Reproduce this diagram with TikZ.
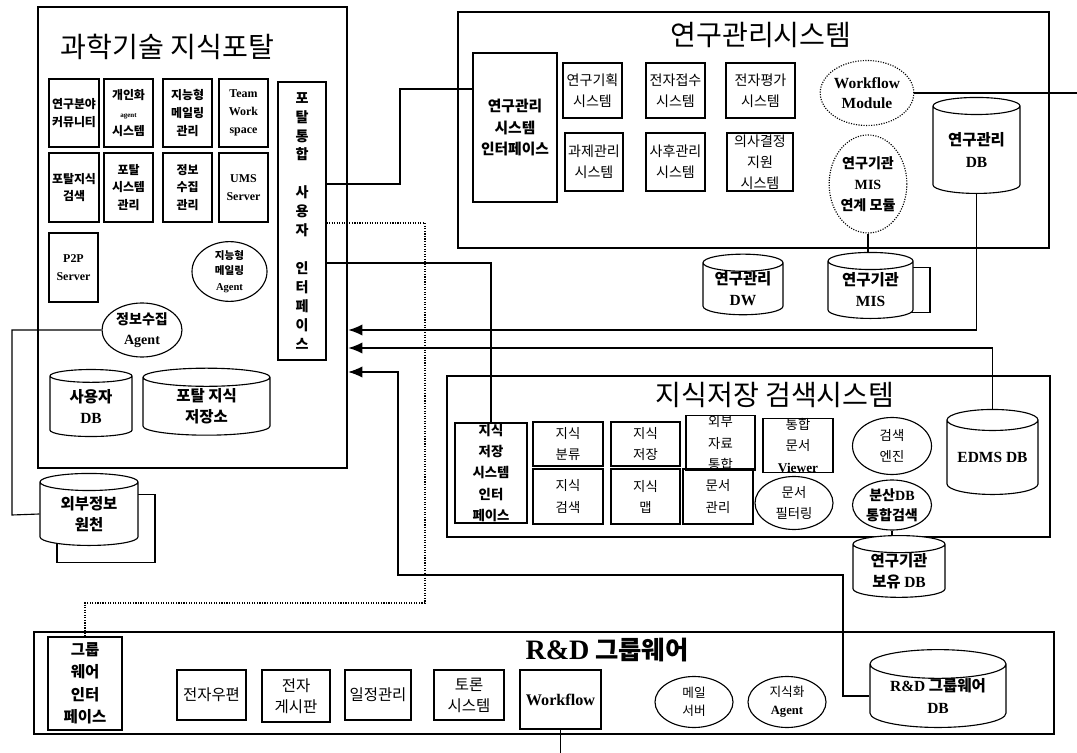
\documentclass[tikz,border=0pt]{standalone}
\usepackage{fontspec}
\setmainfont{Liberation Serif}
\newfontfamily\kr{Noto Sans CJK KR}
\newfontfamily\tnr{Liberation Serif}
\usetikzlibrary{shapes.geometric,arrows.meta}

\newcommand\en[1]{{\tnr\bfseries #1}}
\newcommand\pxu{0.025cm}
\newcommand\fsP{\fontsize{8.5}{12.7}\selectfont}
\newcommand\fsR{\fontsize{10}{15}\selectfont}
\newcommand\fsK{\fontsize{9.5}{15}\selectfont}
\newcommand\fsG{\fontsize{11}{15}\selectfont}
\newcommand\fsD{\fontsize{11}{15}\selectfont}
\newcommand\fsS{\fontsize{9}{13}\selectfont}
\newcommand\fsT{\fontsize{20}{22}\selectfont}
\newcommand\fsV{\fontsize{10}{13.5}\selectfont}

\begin{document}
\begin{tikzpicture}[x=0.025cm, y=-0.025cm, >={Latex[length=10pt,width=8pt]},
  wh/.style 2 args={minimum width=#1*\pxu, minimum height=#2*\pxu}]

  \tikzstyle{O}=[draw, line width=1.8pt, inner sep=0pt]
  \tikzstyle{B}=[draw, line width=0.8pt, inner sep=0pt, align=center, font=\kr\fsR]
  \tikzstyle{P}=[B, font=\kr\bfseries\fsP]
  \tikzstyle{K}=[B, font=\kr\fsK]
  \tikzstyle{G}=[B, font=\kr\fsG]
  \tikzstyle{E}=[ellipse, draw, line width=0.8pt, inner sep=0pt, align=center, font=\kr\fsS]
  \tikzstyle{D}=[cylinder, shape border rotate=90, aspect=0.3, draw, fill=white, line width=0.8pt, inner sep=0pt, align=center, font=\kr\bfseries\fsD]
  \tikzstyle{T}=[font=\kr\fsT]
  \tikzstyle{L}=[line width=0.8pt]

  \useasboundingbox (0,0) rectangle (1077,753);

  % 과학기술 지식포탈
  \node[O, wh={309}{461}] at (192.5,237.5) (portal) {};
  \node[T, anchor=west] at (56,47) (ptitle) {과학기술 지식포탈};
  \node[P, wh={50}{68}] at (74,113) (p1) {연구분야\\커뮤니티};
  \node[P, wh={49}{68}] at (128.5,113) (p2) {개인화\\{\fontsize{5}{6}\selectfont\en{agent}}\\시스템};
  \node[P, wh={49}{68}] at (187.5,113) (p3) {지능형\\메일링\\관리};
  \node[P, wh={49}{68}] at (243.5,113) (p4) {\en{Team}\\\en{Work}\\\en{space}};
  \node[P, wh={50}{69}] at (74,187.5) (p5) {포탈지식\\검색};
  \node[P, wh={49}{69}] at (128.5,187.5) (p6) {포탈\\시스템\\관리};
  \node[P, wh={49}{69}] at (187.5,187.5) (p7) {정보\\수집\\관리};
  \node[P, wh={49}{69}] at (243.5,187.5) (p8) {\en{UMS}\\\en{Server}};
  \node[P, wh={49}{69}] at (73.5,267.5) (p2p) {\en{P2P}\\\en{Server}};
  \node[E, font=\kr\bfseries\fontsize{7.5}{11}\selectfont, wh={75}{57}] at (229.5,271.5) (agm) {지능형\\메일링\\\en{Agent}};
  \node[E, font=\kr\bfseries\fontsize{10}{14}\selectfont, wh={80}{54}] at (142,330) (ia) {정보수집\\\en{Agent}};
  \node[B, font=\kr\bfseries\fsV, wh={48}{278}] at (302,221) (ui) {포\\탈\\통\\합\\~\\사\\용\\자\\~\\인\\터\\페\\이\\스};
  \node[D, wh={82}{67}] at (91,406.5) (udb) {사용자\\\en{DB}};
  \node[D, wh={127}{67}] at (206.5,406.5) (pdb) {포탈 지식\\저장소};
  \node[D, wh={98}{68}] at (106,529) (ext2) {};
  \node[D, wh={98}{72}] at (89,514) (ext) {외부정보\\원천};

  % 연구관리시스템
  \node[O, wh={591}{236}] at (753.5,130) (rms) {};
  \node[T] at (761,35) (rtitle) {연구관리시스템};
  \node[B, font=\kr\bfseries\fontsize{10.5}{15}\selectfont, wh={84}{149}] at (515,127.5) (rmif) {연구관리\\시스템\\인터페이스};
  \node[B, wh={59}{55}] at (592.5,90.5) (r1) {연구기획\\시스템};
  \node[B, wh={59}{55}] at (675.5,90.5) (r2) {전자접수\\시스템};
  \node[B, wh={69}{55}] at (760.5,90.5) (r3) {전자평가\\시스템};
  \node[B, wh={58}{58}] at (594,162) (r4) {과제관리\\시스템};
  \node[B, wh={59}{58}] at (675.5,162) (r5) {사후관리\\시스템};
  \node[B, wh={66}{58}] at (760,162) (r6) {의사결정\\지원\\시스템};
  \node[E, densely dotted, font=\fontsize{11}{14}\selectfont, wh={75}{65}] at (867,93) (wfm) {\en{Workflow}\\\en{Module}};
  \node[E, densely dotted, font=\kr\bfseries\fsR, wh={76}{98}] at (868,184) (miscon) {연구기관\\\en{MIS}\\연계 모듈};
  \node[D, wh={87}{96}] at (976.5,150) (rmdb) {연구관리\\\en{DB}};
  \node[D, wh={80}{58}] at (743,289) (dw) {연구관리\\\en{DW}};
  \node[D, wh={85}{45}] at (887.5,290.5) (mis2) {};
  \node[D, wh={85}{66}] at (870.5,290) (mis) {연구기관\\\en{MIS}};

  % 지식저장 검색시스템
  \node[O, wh={603}{161}] at (748.5,456.5) (kss) {};
  \node[T] at (775,395) (ktitle) {지식저장 검색시스템};
  \node[K, font=\kr\bfseries\fsK, wh={72}{100}] at (491,473) (kif) {지식\\저장\\시스템\\인터\\페이스};
  \node[K, wh={70}{44}] at (568,444) (k1) {지식\\분류};
  \node[K, wh={69}{44}] at (645.5,444) (k2) {지식\\저장};
  \node[K, wh={69}{46}] at (720.5,443) (k3) {외부\\자료\\통합};
  \node[K, wh={70}{45}] at (798,445.5) (k4) {통합\\문서\\\en{Viewer}};
  \node[K, wh={70}{55}] at (568,496.5) (k5) {지식\\검색};
  \node[K, wh={69}{55}] at (645.5,496.5) (k6) {지식\\맵};
  \node[K, wh={70}{55}] at (718,496.5) (k7) {문서\\관리};
  \node[E, font=\kr\fsK, wh={78}{53}] at (794,503) (filt) {문서\\필터링};
  \node[E, font=\kr\fsK, wh={79}{57}] at (892,446) (se) {검색\\엔진};
  \node[E, font=\kr\bfseries\fontsize{10}{14}\selectfont, wh={79}{50}] at (892,505) (dist) {분산\en{DB}\\통합검색};
  \node[D, wh={91}{85}] at (992.5,457.5) (edms) {\en{EDMS DB}};
  \node[D, wh={92}{52}] at (899,571) (hold) {연구기관\\보유 \en{DB}};

  % R&D 그룹웨어
  \node[O, wh={1020}{102}] at (544,683) (rnd) {};
  \node[T, font=\kr\bfseries\fontsize{18}{20}\selectfont] at (607,650) (gtitle) {{\fontsize{20}{22}\selectfont\en{R\&D}} 그룹웨어};
  \node[G, font=\kr\bfseries\fontsize{11}{16}\selectfont, wh={74}{93}] at (85,683.5) (grif) {그룹\\웨어\\인터\\페이스};
  \node[G, wh={69}{50}] at (211.5,695) (g1) {전자우편};
  \node[G, wh={68}{52}] at (296,696) (g2) {전자\\게시판};
  \node[G, wh={66}{50}] at (378,695) (g3) {일정관리};
  \node[G, wh={70}{50}] at (469,695) (g4) {토론\\시스템};
  \node[G, font=\fontsize{11.5}{14}\selectfont, wh={81}{59}] at (560.5,699.5) (wf) {\en{Workflow}};
  \node[E, wh={78}{51}] at (694,702) (mail) {메일\\서버};
  \node[E, wh={78}{51}] at (787,702) (ka) {지식화\\\en{Agent}};
  \node[D, wh={136}{58}] at (938,696) (rnddb) {\en{R\&D} 그룹웨어\\\en{DB}};

  \coordinate (wfmout) at (1077,93);
  \coordinate (wfout) at (560.5,753);

  % connectors
  \draw [L] (ui.east |- 0,184) -| (400,89) -- (rmif.west |- 0,89);
  \draw [L, densely dotted] (ui.east |- 0,223) -| (425,603) -| (grif.north);
  \draw [L] (ui.east |- 0,263) -| (kif.north);
  \draw [L, line width=1pt, ->] (rmdb.south) |- (portal.east |- 0,330);
  \draw [L, line width=1pt, ->] (edms.north) |- (portal.east |- 0,348);
  \draw [L, ->] (rnddb.west) -| (843,575) -| (398,372) -- (portal.east |- 0,372);
  \draw [L] (ia.west) -| (12,515) -- (ext.west);
  \draw [L] (miscon.south) -- (miscon.south |- mis.north);
  \draw [L] (dist.south) -- (dist.south |- hold.north);
  \draw [L] (wfm.east) -- (wfmout);
  \draw [L] (wf.south) -- (wfout);

\end{tikzpicture}
\end{document}
